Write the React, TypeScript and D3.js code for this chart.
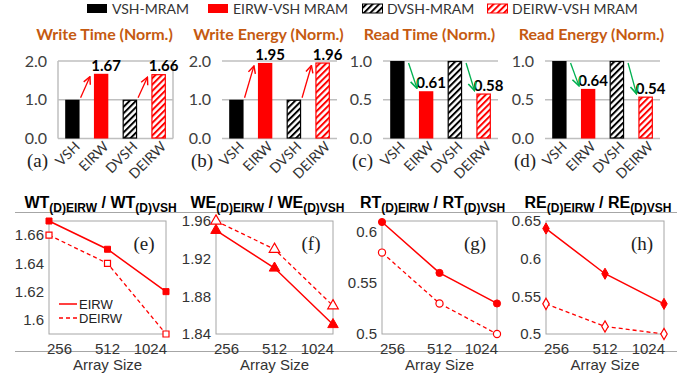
import React from "react";
import * as d3 from "d3";

// legend + bar charts (a)-(d)
const legendLabels = ["VSH-MRAM", "EIRW-VSH MRAM", "DVSH-MRAM", "DEIRW-VSH MRAM"];
const barCategories = ["VSH", "EIRW", "DVSH", "DEIRW"];
const writeTime = [1.0, 1.67, 1.0, 1.66];
const writeEnergy = [1.0, 1.95, 1.0, 1.96];
const readTime = [1.0, 0.61, 1.0, 0.58];
const readEnergy = [1.0, 0.64, 1.0, 0.54];
const writeTicks = [0, 1, 2];
const readTicks = [0, 0.5, 1];

// line charts (e)-(h)
const arraySizes = ["256", "512", "1024"];
const wtEirw = [1.67, 1.65, 1.62];
const wtDeirw = [1.66, 1.64, 1.59];
const weEirw = [1.95, 1.91, 1.85];
const weDeirw = [1.96, 1.93, 1.87];
const rtEirw = [0.61, 0.56, 0.53];
const rtDeirw = [0.58, 0.53, 0.5];
const reEirw = [0.64, 0.58, 0.54];
const reDeirw = [0.54, 0.51, 0.5];
const wtTicks = [1.6, 1.62, 1.64, 1.66];
const weTicks = [1.84, 1.88, 1.92, 1.96];
const rtTicks = [0.5, 0.55, 0.6];
const reTicks = [0.5, 0.55, 0.6, 0.65];

const W = 693;
const H = 381;
const RED = "#ff0000";
const GREEN = "#00b050";
const GRID = "#bfbfbf";
const CAL = "Lato, 'Open Sans', sans-serif";
const ARIAL = "'Liberation Sans', Arial, sans-serif";
const SERIF = "'Liberation Serif', 'Times New Roman', serif";

const legendX = [87, 208, 362, 487];
const barFill = ["#000", RED, "url(#hatchK)", "url(#hatchR)"];
const barStroke = ["none", "none", "#000", RED];

const barPanels = [
  { tag: "(a)", title: "Write Time (Norm.)", values: writeTime, ticks: writeTicks, max: 2, x0: 58, x1: 173, up: true, box: true },
  { tag: "(b)", title: "Write Energy (Norm.)", values: writeEnergy, ticks: writeTicks, max: 2, x0: 222, x1: 337, up: true, box: false },
  { tag: "(c)", title: "Read Time (Norm.)", values: readTime, ticks: readTicks, max: 1, x0: 383, x1: 498, up: false, box: false },
  { tag: "(d)", title: "Read Energy (Norm.)", values: readEnergy, ticks: readTicks, max: 1, x0: 545, x1: 660, up: false, box: false },
];

const linePanels = [
  { tag: "(e)", m: "WT", a: wtEirw, b: wtDeirw, ticks: wtTicks, dom: [1.59, 1.67], sym: d3.symbolSquare, size: 36, x0: 49, x1: 166, legend: true },
  { tag: "(f)", m: "WE", a: weEirw, b: weDeirw, ticks: weTicks, dom: [1.84, 1.96], sym: d3.symbolTriangle, size: 48, x0: 216, x1: 333, legend: false },
  { tag: "(g)", m: "RT", a: rtEirw, b: rtDeirw, ticks: rtTicks, dom: [0.5, 0.611], sym: d3.symbolCircle, size: 40, x0: 382, x1: 497, legend: false },
  { tag: "(h)", m: "RE", a: reEirw, b: reDeirw, ticks: reTicks, dom: [0.5, 0.65], sym: d3.symbolDiamond, size: 36, x0: 546, x1: 664, legend: false },
];

function BarPanel({ p }: { p: (typeof barPanels)[number] }) {
  const y = d3.scaleLinear().domain([0, p.max]).range([138.5, 61]);
  const x = d3.scaleBand<string>().domain(barCategories).range([p.x0, p.x1]).paddingInner(0.5).paddingOuter(0.25);
  const bw = x.bandwidth();
  const color = p.up ? RED : GREEN;
  const arrows = [0, 2].map((i) => {
    const a = barCategories[i];
    const b = barCategories[i + 1];
    const v = p.values[i + 1];
    if (p.up) {
      return { x1: (x(a) as number) + bw + 1, y1: y(p.values[i]) - 2, x2: (x(b) as number) - 4, y2: y(v) + 3 };
    }
    return { x1: (x(a) as number) + bw + 4, y1: y(p.values[i]) + 2, x2: (x(b) as number) - 2, y2: y(v) - 3 };
  });
  return (
    <g>
      <text x={(p.x0 + p.x1) / 2 - 11} y={40} textAnchor="middle" fontFamily={CAL} fontWeight="bold" fontSize={16} fill="#c55a11">
        {p.title}
      </text>
      {p.ticks.map((t) => (
        <g key={t}>
          <line x1={p.x0} x2={p.x1} y1={y(t)} y2={y(t)} stroke={GRID} strokeWidth={1.5} />
          <text x={p.x0 - 11} y={y(t)} dy="0.35em" textAnchor="end" fontFamily={CAL} fontSize={16} fill="#404040">
            {d3.format(".1f")(t)}
          </text>
        </g>
      ))}
      {p.box && (
        <g stroke={GRID} strokeWidth={1.5}>
          <line x1={p.x0} x2={p.x0} y1={y(p.max)} y2={y(0)} />
          <line x1={p.x1} x2={p.x1} y1={y(p.max)} y2={y(0)} />
        </g>
      )}
      {barCategories.map((c, i) => (
        <rect
          key={c}
          x={(x(c) as number) + (barStroke[i] === "none" ? 0 : 0.5)}
          y={y(p.values[i]) + (barStroke[i] === "none" ? 0 : 0.5)}
          width={bw - (barStroke[i] === "none" ? 0 : 1)}
          height={y(0) - y(p.values[i]) - (barStroke[i] === "none" ? 0 : 1)}
          fill={barFill[i]}
          stroke={barStroke[i]}
          strokeWidth={1.2}
        />
      ))}
      {[1, 3].map((i) => (
        <text
          key={i}
          x={(x(barCategories[i]) as number) + bw / 2 + 5}
          y={y(p.values[i]) - 3}
          textAnchor="middle"
          fontFamily={CAL}
          fontWeight="bold"
          fontSize={15}
          fill="#000"
        >
          {d3.format(".2f")(p.values[i])}
        </text>
      ))}
      {arrows.map((a, i) => (
        <line key={i} {...a} stroke={color} strokeWidth={1.3} markerEnd={p.up ? "url(#arrR)" : "url(#arrG)"} />
      ))}
      {barCategories.map((c) => (
        <text
          key={c}
          transform={`translate(${(x(c) as number) + bw / 2 + 5},${144}) rotate(-45)`}
          dy="0.35em"
          textAnchor="end"
          fontFamily={CAL}
          fontSize={14}
          fill="#333"
        >
          {c}
        </text>
      ))}
      <text x={p.x0 - 31} y={167} fontFamily={SERIF} fontSize={19} fill="#222">
        {p.tag}
      </text>
    </g>
  );
}

function LinePanel({ p }: { p: (typeof linePanels)[number] }) {
  const yT = 221;
  const yB = 334;
  const x = d3.scalePoint<string>().domain(arraySizes).range([p.x0, p.x1]);
  const y = d3.scaleLinear().domain(p.dom).range([yB, yT]);
  const line = d3
    .line<number>()
    .x((_, i) => x(arraySizes[i]) as number)
    .y((d) => y(d));
  const sym = d3.symbol().type(p.sym).size(p.size)();
  const cx = (p.x0 + p.x1) / 2;
  return (
    <g>
      <text x={cx - 7} y={208} textAnchor="middle" fontFamily={ARIAL} fontWeight="bold" fontSize={16} fill="#000">
        {p.m}
        <tspan fontSize={12} dy={4}>(D)EIRW</tspan>
        <tspan dy={-4}> / {p.m}</tspan>
        <tspan fontSize={12} dy={4}>(D)VSH</tspan>
      </text>
      <rect x={p.x0} y={yT} width={p.x1 - p.x0} height={yB - yT} fill="#fff" stroke="#a6a6a6" strokeWidth={1} />
      {p.ticks.map((t) => (
        <text key={t} x={p.x0 - 5} y={y(t)} dy="0.35em" textAnchor="end" fontFamily={ARIAL} fontSize={15} fill="#333">
          {String(t)}
        </text>
      ))}
      {arraySizes.map((s, i) => (
        <text
          key={s}
          x={(x(s) as number) + (i === 0 ? -2 : i === arraySizes.length - 1 ? 1 : 0)}
          y={354}
          textAnchor={i === 0 ? "start" : i === arraySizes.length - 1 ? "end" : "middle"}
          fontFamily={ARIAL}
          fontSize={15}
          fill="#333"
        >
          {s}
        </text>
      ))}
      <text x={cx} y={370} textAnchor="middle" fontFamily={ARIAL} fontSize={15} fill="#333">
        Array Size
      </text>
      <path d={line(p.b) || ""} fill="none" stroke={RED} strokeWidth={1.3} strokeDasharray="4,3" />
      <path d={line(p.a) || ""} fill="none" stroke={RED} strokeWidth={1.5} />
      {p.b.map((v, i) => (
        <path key={"b" + i} d={sym || ""} transform={`translate(${x(arraySizes[i])},${y(v)})`} fill="#fff" stroke={RED} strokeWidth={1.2} />
      ))}
      {p.a.map((v, i) => (
        <path key={"a" + i} d={sym || ""} transform={`translate(${x(arraySizes[i])},${y(v)})`} fill={RED} stroke={RED} strokeWidth={1} />
      ))}
      <text x={p.x1 - 22} y={250} textAnchor="middle" fontFamily={SERIF} fontSize={19} fill="#222">
        {p.tag}
      </text>
      {p.legend && (
        <g fontFamily={ARIAL} fontSize={13} fill="#222">
          <line x1={p.x0 + 10} x2={p.x0 + 28} y1={304} y2={304} stroke={RED} strokeWidth={1.5} />
          <text x={p.x0 + 30} y={304} dy="0.35em">EIRW</text>
          <line x1={p.x0 + 10} x2={p.x0 + 28} y1={318} y2={318} stroke={RED} strokeWidth={1.3} strokeDasharray="4,3" />
          <text x={p.x0 + 30} y={318} dy="0.35em">DEIRW</text>
        </g>
      )}
    </g>
  );
}

export default function App() {
  return (
    <svg width={W} height={H} style={{ position: "absolute", left: 0, top: 0, background: "#fff" }}>
      <defs>
        <pattern id="hatchK" width={4.5} height={4.5} patternUnits="userSpaceOnUse" patternTransform="rotate(45)">
          <rect width={4.5} height={4.5} fill="#fff" />
          <line x1={1} y1={0} x2={1} y2={4.5} stroke="#000" strokeWidth={2} />
        </pattern>
        <pattern id="hatchR" width={4.5} height={4.5} patternUnits="userSpaceOnUse" patternTransform="rotate(45)">
          <rect width={4.5} height={4.5} fill="#fff" />
          <line x1={1} y1={0} x2={1} y2={4.5} stroke={RED} strokeWidth={2} />
        </pattern>
        <marker id="arrR" viewBox="0 0 10 10" refX={9} refY={5} markerWidth={9} markerHeight={9} markerUnits="userSpaceOnUse" orient="auto">
          <path d="M1,1 L9,5 L1,9" fill="none" stroke={RED} strokeWidth={1.6} />
        </marker>
        <marker id="arrG" viewBox="0 0 10 10" refX={9} refY={5} markerWidth={10} markerHeight={10} markerUnits="userSpaceOnUse" orient="auto">
          <path d="M1,1 L9,5 L1,9" fill="none" stroke={GREEN} strokeWidth={1.6} />
        </marker>
      </defs>
      {legendLabels.map((l, i) => (
        <g key={l}>
          <rect x={legendX[i] + (barStroke[i] === "none" ? 0 : 0.5)} y={4} width={20} height={9} fill={barFill[i]} stroke={barStroke[i]} strokeWidth={1} />
          <text x={legendX[i] + 25} y={14} fontFamily={CAL} fontSize={14} fill="#333">
            {l}
          </text>
        </g>
      ))}
      {barPanels.map((p) => (
        <BarPanel key={p.tag} p={p} />
      ))}
      <line x1={15} x2={677} y1={212.5} y2={212.5} stroke="#a6a6a6" strokeWidth={1} />
      <line x1={15} x2={677} y1={351.5} y2={351.5} stroke="#a6a6a6" strokeWidth={1} />
      {linePanels.map((p) => (
        <LinePanel key={p.tag} p={p} />
      ))}
    </svg>
  );
}
